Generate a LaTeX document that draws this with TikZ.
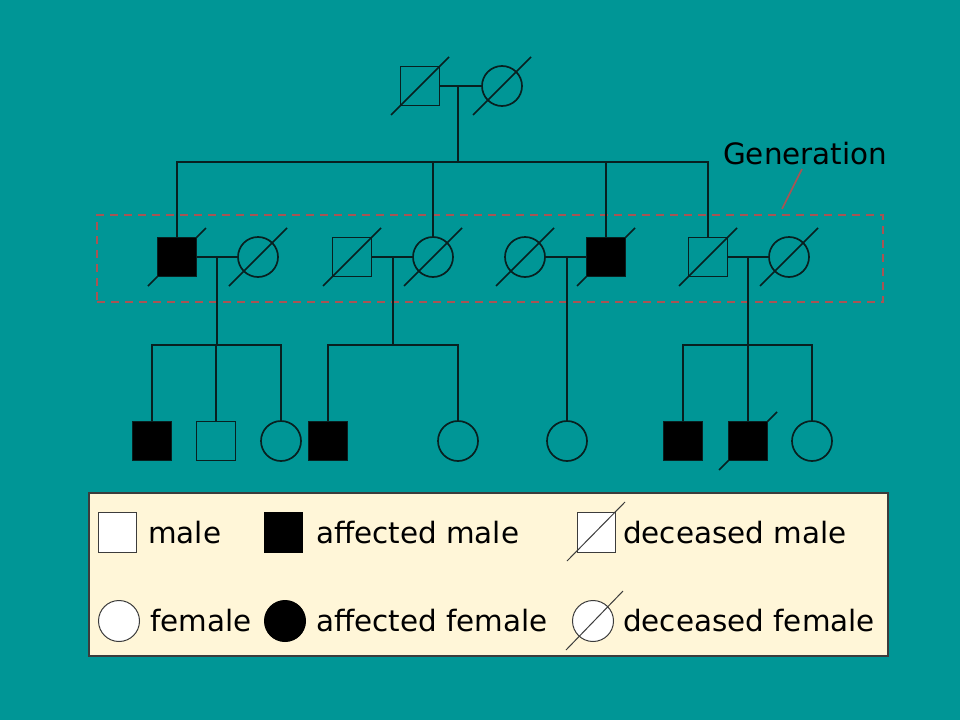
\documentclass[tikz,border=0pt]{standalone}
\usepackage{fontspec}
\setmainfont{DejaVu Sans}
\usetikzlibrary{calc}
\definecolor{bg}{RGB}{0,150,150}
\definecolor{legbg}{RGB}{255,246,216}
\definecolor{dashred}{RGB}{168,84,84}
\definecolor{ink}{RGB}{8,32,32}
\definecolor{legline}{RGB}{60,60,60}
\tikzset{
  ped/.style={draw=ink, line width=1.7pt, inner sep=0pt},
  male/.style={ped, rectangle, minimum size=39pt},
  female/.style={ped, circle, minimum size=40pt},
  aff/.style={fill=black},
  link/.style={draw=ink, line width=1.7pt},
  lmale/.style={draw=legline, line width=1pt, fill=white, rectangle, minimum width=38pt, minimum height=40pt, inner sep=0pt},
  lfemale/.style={draw=legline, line width=1pt, fill=white, circle, minimum size=41pt, inner sep=0pt},
  ltext/.style={anchor=base west, inner sep=0pt, font=\fontsize{29.4}{35}\selectfont, text=black},
  genbox/.style={draw=dashred, line width=1.8pt, dash pattern=on 8pt off 6pt, rectangle, inner sep=0pt},
}
\newcommand\deceased[2][29]{\draw[link] ($(#2)+(-#1,#1)$) -- ($(#2)+(#1,-#1)$);}
\begin{document}
\begin{tikzpicture}[x=1pt,y=-1pt]
\fill[bg] (0,0) rectangle (960,720);
\useasboundingbox (0,0) rectangle (960,720);

% generation box and label
\node[genbox, minimum width=786pt, minimum height=87pt] (genbox) at (490,258.5) {};
\node[ltext] (gentext) at (723,164) {Generation};
\coordinate (gp1) at (802,169);
\coordinate (gp2) at (782,209);
\draw[dashred, line width=1.6pt] (gp1) -- (gp2);

% positions of individuals
\coordinate (p1m) at (420,86);  \coordinate (p1f) at (502,86);
\coordinate (p2a) at (177,257); \coordinate (p2b) at (258,257);
\coordinate (p2c) at (352,257); \coordinate (p2d) at (433,257);
\coordinate (p2e) at (525,257); \coordinate (p2f) at (606,257);
\coordinate (p2g) at (708,257); \coordinate (p2h) at (789,257);
\coordinate (p3h) at (748,441);

% deceased slashes (under the symbols)
\foreach \n in {p1m,p1f,p2a,p2b,p2c,p2d,p2e,p2f,p2g,p2h,p3h} {\deceased{\n}}

% generation 1
\node[male] (g1m) at (p1m) {};
\node[female] (g1f) at (p1f) {};
% generation 2
\node[male,aff] (g2a) at (p2a) {};
\node[female] (g2b) at (p2b) {};
\node[male] (g2c) at (p2c) {};
\node[female] (g2d) at (p2d) {};
\node[female] (g2e) at (p2e) {};
\node[male,aff] (g2f) at (p2f) {};
\node[male] (g2g) at (p2g) {};
\node[female] (g2h) at (p2h) {};
% generation 3
\node[male,aff] (g3a) at (152,441) {};
\node[male] (g3b) at (216,441) {};
\node[female] (g3c) at (281,441) {};
\node[male,aff] (g3d) at (328,441) {};
\node[female] (g3e) at (458,441) {};
\node[female] (g3f) at (567,441) {};
\node[male,aff] (g3g) at (683,441) {};
\node[male,aff] (g3h) at (p3h) {};
\node[female] (g3i) at (812,441) {};

% gen 1 couple
\draw[link] (g1m.east) -- (g1f.west);
\coordinate (c1) at ($(g1m)!0.5!(g1f)+(-3,0)$);
\coordinate (s1) at ($(c1)+(0,76)$);
\draw[link] (c1) -- (s1);
\draw[link] (g2a.north) |- (s1) -| (g2g.north);
\draw[link] (g2d.north) -- (g2d.north |- s1);
\draw[link] (g2f.north) -- (g2f.north |- s1);

% couple 1
\draw[link] (g2a.east) -- (g2b.west);
\coordinate (c2) at ($(g2a)!0.5!(g2b)+(-0.5,0)$);
\coordinate (s2) at ($(c2)+(0,88)$);
\draw[link] (c2) -- (s2);
\draw[link] (g3a.north) |- (s2) -| (g3c.north);
\draw[link] (g3b.north) -- (g3b.north |- s2);

% couple 2
\draw[link] (g2c.east) -- (g2d.west);
\coordinate (c3) at ($(g2c)!0.5!(g2d)+(0.5,0)$);
\coordinate (s3) at ($(c3)+(0,88)$);
\draw[link] (c3) -- (s3);
\draw[link] (g3d.north) |- (s3) -| (g3e.north);

% couple 3
\draw[link] (g2e.east) -- (g2f.west);
\coordinate (c4) at ($(g2e)!0.5!(g2f)+(1.5,0)$);
\draw[link] (c4) -- (c4 |- g3f.north);

% couple 4
\draw[link] (g2g.east) -- (g2h.west);
\coordinate (c5) at ($(g2g)!0.5!(g2h)+(-0.5,0)$);
\coordinate (s5) at ($(c5)+(0,88)$);
\draw[link] (c5) -- (s5);
\draw[link] (g3g.north) |- (s5) -| (g3i.north);
\draw[link] (g3h.north) -- (g3h.north |- s5);

% legend
\node[draw=legline, line width=1.8pt, fill=legbg, rectangle, minimum width=799pt, minimum height=163pt, inner sep=0pt] (legend) at (488.5,574.5) {};
\node[lmale] (l1) at (117.5,532) {};
\node[ltext] (t1) at (148,543) {male};
\node[lmale, fill=black, draw=black] (l2) at (283.5,532) {};
\node[ltext] (t2) at (316,543) {affected male};
\node[lmale] (l3) at (596,532) {};
\node[ltext] (t3) at (623,543) {deceased male};
\draw[legline, line width=1pt] ($(l3)+(-29,29)$) -- ($(l3)+(29,-30)$);
\node[lfemale] (l4) at (119,621) {};
\node[ltext] (t4) at (150,631) {female};
\node[lfemale, fill=black, draw=black] (l5) at (285,621) {};
\node[ltext] (t5) at (316,631) {affected female};
\node[lfemale] (l6) at (593,621) {};
\node[ltext] (t6) at (623,631) {deceased female};
\draw[legline, line width=1pt] ($(l6)+(-27,29)$) -- ($(l6)+(30,-30)$);
\end{tikzpicture}
\end{document}
